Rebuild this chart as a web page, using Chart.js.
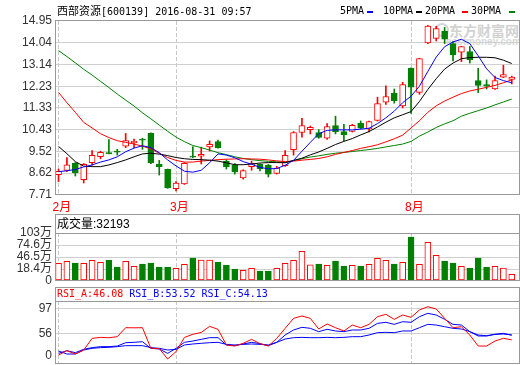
<!DOCTYPE html>
<html>
<head>
<meta charset="utf-8">
<script src="https://cdn.jsdelivr.net/npm/chart.js@4.4.1/dist/chart.umd.min.js"></script>
<style>
  body { margin:0; background:#fff; }
  #wrap { position:relative; width:520px; height:365px; overflow:hidden; font-family:"Liberation Sans","Noto Sans CJK SC",sans-serif; }
  canvas { position:absolute; left:0; z-index:1; }
  .txt { position:absolute; white-space:nowrap; line-height:14px; z-index:2; color:#000; }
  .mono { font-family:"DejaVu Sans Mono","Noto Sans CJK SC",monospace; font-size:10px; }
  .cjk { font-family:"Noto Sans CJK SC",sans-serif; font-size:11px; }
  .dash { position:absolute; top:11px; height:2px; width:6px; z-index:2; }
  .wm { position:absolute; z-index:0; white-space:nowrap; font-weight:bold; }
</style>
</head>
<body>
<div id="wrap">
  <!-- header + MA legend -->
  <div class="txt" style="left:57px;top:3px"><span class="cjk">西部资源</span><span class="mono">[600139] 2016-08-31 09:57</span></div>
  <div class="txt mono" style="left:340px;top:4px">5PMA</div>
  <div class="dash" style="left:367px;background:#0000ff"></div>
  <div class="txt mono" style="left:383px;top:4px">10PMA</div>
  <div class="dash" style="left:416px;background:#000"></div>
  <div class="txt mono" style="left:425px;top:4px">20PMA</div>
  <div class="dash" style="left:462px;background:#ff0000"></div>
  <div class="txt mono" style="left:471px;top:4px">30PMA</div>
  <div class="dash" style="left:509px;background:#008000"></div>

  <!-- watermark -->
  <div class="wm" style="left:435px;top:23px;width:10px;height:10px;border:2px solid #d4d4d4;border-radius:50%"></div>
  <div class="wm" style="left:449px;top:20px;font:bold 14px 'Noto Sans CJK SC';color:#d2d2d2">东方财富网</div>
  <div class="wm" style="left:446px;top:36px;font:bold 10px 'Liberation Sans';color:#d8d8d8">eastmoney.com</div>

  <canvas id="kline" width="520" height="215" style="top:0"></canvas>

  <div class="txt" style="left:57px;top:216px;font-size:12px"><span style="font-family:'Noto Sans CJK SC'">成交量</span>:32193</div>
  <canvas id="vol" width="520" height="77" style="top:214px"></canvas>

  <div class="txt mono" style="left:57px;top:287px"><span style="color:#ff0000">RSI_A:46.08</span> <span style="color:#0000ff">RSI_B:53.52</span> <span style="color:#0000ff">RSI_C:54.13</span></div>
  <canvas id="rsi" width="520" height="88" style="top:287px"></canvas>
</div>
<script>
// trading days: index 0 = first bar, month starts at these bars
const monthPos = [0, 14, 42];
const monthNames = ['2月', '3月', '8月'];

const openP  = [8.56, 8.73, 9.03, 8.35, 9.06, 9.31, 9.48, 9.54, 9.74, 9.89, 10.04, 10.28, 8.99, 8.78, 7.97, 8.17, 9.33, 9.33, 9.71, 9.93, 9.12, 8.96, 8.42, 8.89, 8.99, 8.95, 8.61, 8.93, 9.60, 10.31, 10.43, 10.31, 10.07, 10.60, 10.35, 10.36, 10.69, 10.46, 10.81, 11.57, 11.94, 11.42, 12.98, 11.98, 14.04, 14.23, 14.53, 14.01, 13.65, 13.68, 12.47, 12.30, 12.12, 12.61, 12.52];
const highP  = [8.79, 9.27, 9.06, 9.02, 9.56, 9.53, 10.02, 9.61, 10.27, 10.04, 10.07, 10.30, 9.15, 8.79, 8.27, 9.06, 9.72, 9.70, 9.96, 9.99, 9.18, 9.02, 8.76, 9.12, 9.01, 8.99, 8.90, 9.56, 10.35, 10.90, 10.58, 10.43, 10.68, 10.99, 10.65, 10.65, 10.79, 10.79, 11.78, 12.25, 12.12, 12.40, 13.00, 13.40, 14.77, 14.73, 14.68, 14.09, 13.90, 13.89, 12.98, 12.50, 12.66, 13.11, 12.66];
const lowP   = [8.27, 8.68, 8.50, 8.21, 8.95, 9.22, 9.42, 9.37, 9.68, 9.68, 9.61, 9.01, 8.54, 7.99, 7.88, 8.15, 9.26, 9.00, 9.54, 9.66, 8.79, 8.58, 8.37, 8.74, 8.71, 8.46, 8.58, 8.90, 9.37, 10.12, 10.25, 10.07, 10.02, 10.25, 9.97, 10.33, 10.46, 10.33, 10.79, 11.48, 11.53, 11.33, 11.10, 11.90, 14.01, 14.12, 14.01, 13.29, 13.26, 13.20, 11.97, 12.12, 12.10, 12.59, 12.33];
const closeP = [8.70, 8.97, 8.64, 8.99, 9.36, 9.49, 9.43, 9.49, 9.97, 9.94, 9.99, 9.04, 8.89, 8.00, 8.21, 9.03, 9.28, 9.40, 9.82, 9.67, 8.88, 8.67, 8.73, 9.02, 8.81, 8.58, 8.83, 9.36, 10.31, 10.60, 10.53, 10.11, 10.56, 10.35, 10.21, 10.61, 10.49, 10.76, 11.51, 11.81, 11.64, 12.30, 12.20, 13.39, 14.74, 14.63, 14.19, 13.54, 13.89, 13.33, 12.27, 12.24, 12.47, 12.72, 12.62];

const ma5  = [8.68, 8.72, 8.77, 8.88, 8.96, 9.08, 9.17, 9.30, 9.51, 9.66, 9.76, 9.68, 9.47, 9.17, 8.92, 8.70, 8.66, 8.74, 9.05, 9.42, 9.37, 9.26, 9.10, 8.99, 8.86, 8.80, 8.81, 8.95, 9.15, 9.53, 9.90, 10.26, 10.40, 10.42, 10.42, 10.42, 10.45, 10.49, 10.68, 10.92, 11.20, 11.55, 11.82, 12.24, 12.85, 13.45, 13.88, 14.08, 14.19, 14.01, 13.50, 12.96, 12.60, 12.47, 12.38];
const ma10 = [9.73, 9.43, 9.10, 8.91, 8.89, 8.89, 8.96, 9.06, 9.17, 9.30, 9.42, 9.45, 9.41, 9.35, 9.27, 9.22, 9.19, 9.18, 9.16, 9.12, 9.05, 8.97, 8.97, 9.00, 9.04, 9.06, 9.06, 9.05, 9.15, 9.24, 9.38, 9.50, 9.65, 9.81, 9.94, 10.06, 10.21, 10.35, 10.54, 10.74, 10.92, 11.05, 11.18, 11.60, 12.10, 12.55, 12.95, 13.20, 13.38, 13.43, 13.44, 13.44, 13.42, 13.32, 13.18];
const ma20 = [11.98, 11.55, 11.15, 10.73, 10.50, 10.26, 10.10, 9.97, 9.90, 9.83, 9.74, 9.63, 9.45, 9.27, 9.15, 9.08, 9.08, 9.12, 9.15, 9.18, 9.20, 9.21, 9.22, 9.21, 9.20, 9.17, 9.13, 9.10, 9.12, 9.16, 9.19, 9.23, 9.30, 9.40, 9.48, 9.56, 9.65, 9.72, 9.80, 9.92, 10.05, 10.20, 10.50, 10.80, 11.15, 11.42, 11.62, 11.78, 11.93, 12.04, 12.11, 12.19, 12.27, 12.38, 12.50];
const ma30 = [13.72, 13.47, 13.21, 12.94, 12.70, 12.44, 12.18, 11.91, 11.66, 11.41, 11.13, 10.88, 10.62, 10.36, 10.12, 9.93, 9.77, 9.68, 9.58, 9.47, 9.39, 9.30, 9.23, 9.18, 9.14, 9.11, 9.09, 9.07, 9.14, 9.22, 9.29, 9.34, 9.40, 9.45, 9.48, 9.52, 9.56, 9.60, 9.65, 9.71, 9.77, 9.83, 9.94, 10.16, 10.33, 10.52, 10.67, 10.80, 10.99, 11.11, 11.22, 11.33, 11.46, 11.58, 11.70];

// volume in 万
const volume = [32.1, 36.8, 32.8, 32.1, 39.1, 34.4, 39.8, 23.5, 36.8, 25.1, 30.5, 32.8, 23.5, 23.5, 20.4, 29.8, 44.4, 39.8, 39.8, 35.1, 28.1, 18.8, 15.8, 20.4, 14.1, 14.1, 20.4, 32.1, 39.1, 60.1, 28.8, 30.5, 27.4, 37.5, 25.8, 27.4, 25.8, 29.8, 43.7, 39.1, 30.5, 34.4, 93.4, 29.8, 81.0, 50.7, 37.5, 32.8, 25.1, 21.1, 44.4, 23.5, 25.1, 21.1, 6.5];

const rsiA = [21.6, 28.6, 23.2, 29.5, 48.5, 50.1, 49.5, 51.2, 65.7, 65.5, 65.7, 32.4, 32.0, 15.2, 27.0, 50.0, 55.0, 58.0, 67.9, 63.1, 37.8, 36.1, 40.5, 46.9, 40.0, 36.1, 48.5, 64.7, 80.8, 84.6, 80.8, 63.6, 71.7, 65.7, 60.4, 70.0, 65.7, 71.1, 83.5, 87.3, 79.2, 86.2, 82.4, 94.3, 99.6, 95.9, 80.8, 65.7, 67.3, 53.9, 36.1, 36.1, 44.2, 48.5, 46.08];
const rsiB = [24.3, 28.6, 25.4, 30.8, 33.5, 35.1, 35.1, 36.1, 41.5, 42.1, 43.1, 32.4, 31.3, 24.3, 32.4, 42.1, 44.2, 46.9, 49.6, 49.6, 37.8, 36.7, 39.4, 42.1, 40.0, 36.7, 42.1, 53.9, 62.0, 66.3, 64.7, 59.3, 63.1, 60.4, 59.3, 62.0, 62.0, 64.7, 72.7, 74.4, 71.1, 75.4, 74.4, 83.5, 88.9, 86.2, 79.2, 71.1, 70.0, 59.3, 52.3, 52.3, 55.0, 56.6, 53.52];
const rsiC = [28.1, 23.2, 23.2, 29.7, 32.4, 33.5, 34.0, 35.1, 36.7, 36.7, 36.7, 33.5, 32.4, 29.7, 30.8, 37.8, 39.4, 40.5, 41.5, 42.1, 38.8, 37.8, 38.8, 39.4, 38.8, 37.8, 42.1, 47.4, 49.6, 50.1, 49.6, 49.6, 50.1, 49.6, 50.1, 51.2, 51.2, 53.9, 57.7, 58.2, 57.7, 60.4, 60.4, 65.7, 71.1, 70.0, 67.3, 64.7, 63.6, 59.3, 53.9, 52.8, 55.0, 55.5, 54.13];

const priceTicks = [7.71, 8.62, 9.52, 10.43, 11.33, 12.23, 13.14, 14.04, 14.95];
const volTicks = [-8, 18.4, 46.5, 74.6, 102.7];
const volTickLabels = ['0', '18.4万', '46.5万', '74.6万', '103万'];
const rsiTicks = [21, 56, 97];
const rsiTickLabels = ['0', '56', '97'];

const RED = '#ff0000', GREEN = '#008000', BLUE = '#0000ff', GRID = '#d0d0d0';
const FONT = { family: '"Liberation Sans", "Noto Sans CJK SC", sans-serif', size: 12 };
const up = closeP.map((c, i) => c >= openP[i]);
const xy = arr => arr.map((v, i) => ({ x: i, y: v }));

// panel outline, plus the title strip separator for the lower panels
const frame = {
  id: 'frame',
  afterDraw(chart, args, opts) {
    const { ctx, chartArea: a } = chart;
    const l = Math.round(a.left) + 0.5, r = Math.round(a.right) - 0.5;
    const t = opts.boxTop, b = Math.round(a.bottom) - 0.5;
    ctx.save();
    ctx.strokeStyle = '#999';
    ctx.lineWidth = 1;
    ctx.strokeRect(l, t, r - l, b - t);
    if (opts.strip) {
      ctx.beginPath();
      ctx.moveTo(l, Math.round(a.top) + 0.5);
      ctx.lineTo(r, Math.round(a.top) + 0.5);
      ctx.stroke();
    }
    ctx.restore();
  }
};

function xAxis(showLabels) {
  return {
    type: 'linear', min: -0.42, max: 54.98, offset: false,
    afterBuildTicks: s => { s.ticks = monthPos.map(v => ({ value: v })); },
    afterFit: s => { s.height = showLabels ? 20 : 0; },
    grid: { color: '#c8c8c8', drawTicks: false, offset: false },
    border: { display: false, dash: [4, 2] },
    ticks: showLabels
      ? { color: RED, font: FONT, align: 'start', labelOffset: -6, padding: 5, maxRotation: 0, autoSkip: false,
          callback: v => monthNames[monthPos.indexOf(v)] }
      : { display: false }
  };
}

function yAxis(min, max, ticks, labelFn) {
  return {
    min, max, beginAtZero: false,
    afterBuildTicks: s => { s.ticks = ticks.map(v => ({ value: v })); },
    afterFit: s => { s.width = 55; },
    grid: { drawTicks: false, color: c => (c.index === 0 || c.index === ticks.length - 1) ? 'transparent' : GRID },
    border: { display: false },
    ticks: { padding: 3, color: '#333', font: FONT, autoSkip: false, callback: labelFn }
  };
}

const base = {
  responsive: false, animation: false, events: [],
  plugins: { legend: { display: false }, tooltip: { enabled: false } }
};
const maLine = (data, color) => ({
  type: 'line', data: xy(data), borderColor: color, borderWidth: 1, pointRadius: 0, tension: 0, order: 0
});

new Chart(document.getElementById('kline'), {
  type: 'bar',
  data: {
    datasets: [
      maLine(ma5, BLUE), maLine(ma10, '#000'), maLine(ma20, RED), maLine(ma30, GREEN),
      { data: openP.map((o, i) => ({ x: i, y: [o, closeP[i]] })),
        backgroundColor: up.map(u => u ? '#fff' : GREEN), borderColor: up.map(u => u ? RED : GREEN),
        borderWidth: 1, borderSkipped: false, barThickness: 6, grouped: false, order: 1 },
      { data: lowP.map((l, i) => ({ x: i, y: [l, highP[i]] })),
        backgroundColor: up.map(u => u ? RED : GREEN), borderWidth: 0, barThickness: 1, grouped: false, order: 2 }
    ]
  },
  options: {
    ...base,
    layout: { padding: { top: 21, right: 0, bottom: 0, left: 0 } },
    scales: { x: xAxis(true), y: yAxis(7.71, 14.95, priceTicks, v => v.toFixed(2)) },
    plugins: { ...base.plugins, frame: { boxTop: 20.5 } }
  },
  plugins: [frame]
});

new Chart(document.getElementById('vol'), {
  type: 'bar',
  data: {
    datasets: [{
      data: xy(volume), base: volTicks[0],
      backgroundColor: up.map(u => u ? '#fff' : GREEN), borderColor: up.map(u => u ? RED : GREEN),
      borderWidth: 1, borderSkipped: false, barThickness: 6, grouped: false
    }]
  },
  options: {
    ...base,
    layout: { padding: { top: 19, right: 0, bottom: 10.5, left: 0 } },
    scales: { x: xAxis(false), y: yAxis(volTicks[0], volTicks[volTicks.length - 1], volTicks, (v, i) => volTickLabels[i]) },
    plugins: { ...base.plugins, frame: { boxTop: 0.5, strip: true } }
  },
  plugins: [frame]
});

new Chart(document.getElementById('rsi'), {
  type: 'line',
  data: {
    datasets: [
      { data: xy(rsiA), borderColor: RED, borderWidth: 1, pointRadius: 0, tension: 0 },
      { data: xy(rsiB), borderColor: BLUE, borderWidth: 1, pointRadius: 0, tension: 0 },
      { data: xy(rsiC), borderColor: BLUE, borderWidth: 1, pointRadius: 0, tension: 0 }
    ]
  },
  options: {
    ...base,
    layout: { padding: { top: 14, right: 0, bottom: 11, left: 0 } },
    scales: {
      x: xAxis(false),
      y: { ...yAxis(7.1, 108.8, rsiTicks, (v, i) => rsiTickLabels[i]),
           grid: { drawTicks: false, color: c => c.index === 0 ? 'transparent' : GRID } }
    },
    plugins: { ...base.plugins, frame: { boxTop: 0.5, strip: true } }
  },
  plugins: [frame]
});
</script>
</body>
</html>
